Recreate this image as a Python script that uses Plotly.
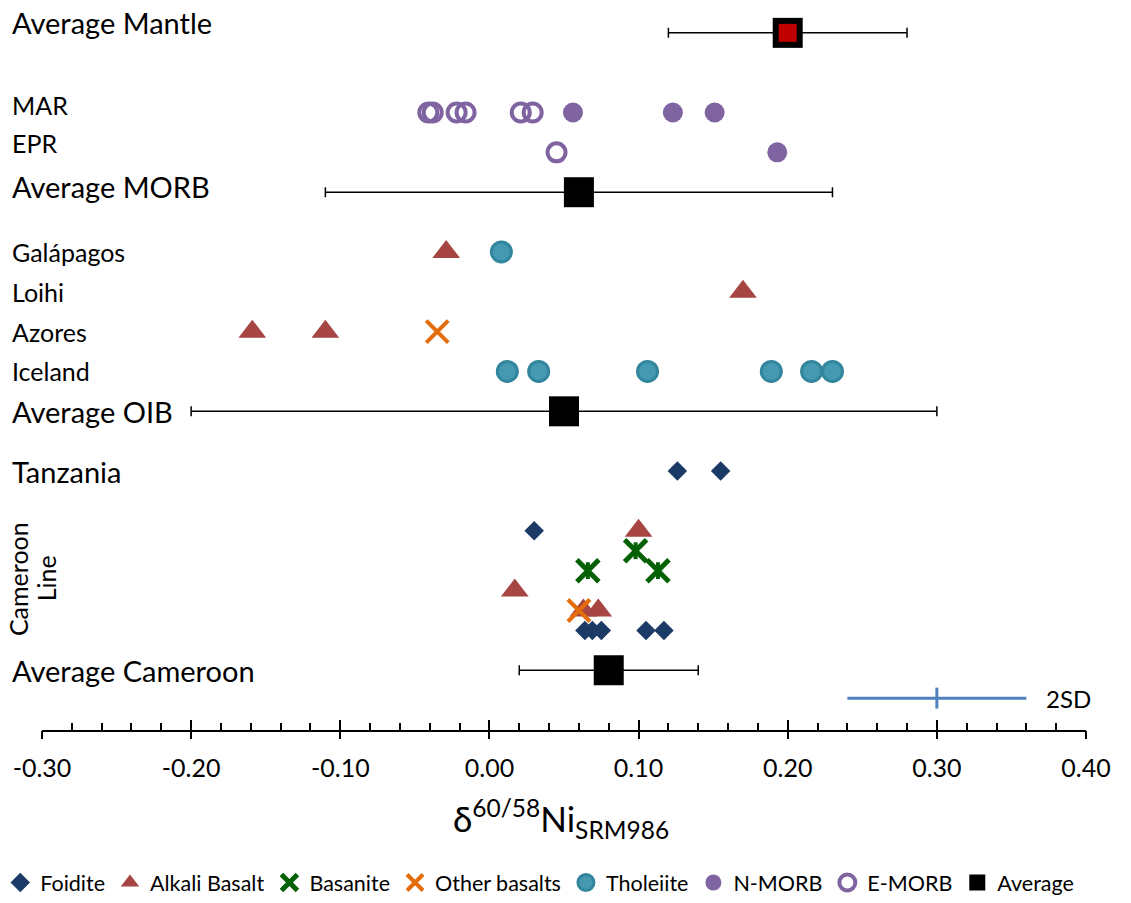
import plotly.graph_objects as go

FONT = "Lato"

# --- sample values (delta 60/58 Ni, permil) and their row levels -----------
foidite_x = [0.126, 0.155, 0.030, 0.064, 0.069, 0.075, 0.105, 0.117]
foidite_y = [13, 13, 10, 5, 5, 5, 5, 5]

alkali_x = [-0.029, 0.170, -0.159, -0.110, 0.100, 0.017, 0.063, 0.073]
alkali_y = [24, 22, 20, 20, 10, 7, 6, 6]

basanite_x = [0.098, 0.066, 0.113]
basanite_y = [9, 8, 8]

other_x = [-0.035, 0.060]
other_y = [20, 6]

tholeiite_x = [0.008, 0.012, 0.033, 0.106, 0.189, 0.216, 0.230]
tholeiite_y = [24, 18, 18, 18, 18, 18, 18]

nmorb_x = [0.056, 0.123, 0.151, 0.193]
nmorb_y = [31, 31, 31, 29]

emorb_x = [-0.041, -0.038, -0.022, -0.016, 0.021, 0.029, 0.045]
emorb_y = [31, 31, 31, 31, 31, 31, 29]

avg_names = ["Average Mantle", "Average MORB", "Average OIB", "Average Cameroon"]
avg_x = [0.20, 0.06, 0.05, 0.08]
avg_2sd = [0.08, 0.17, 0.25, 0.06]
avg_y = [35, 27, 16, 3]

sd_x = [0.30]
sd_err = [0.06]
sd_y = [1.6]

# row captions on the left
big_labels = ["Average Mantle", "Average MORB", "Average OIB", "Tanzania", "Average Cameroon"]
big_label_y = [35.5, 27.3, 16, 13, 3]
small_labels = ["MAR", "EPR", "Galápagos", "Loihi", "Azores", "Iceland"]
small_label_y = [31.4, 29.45, 24, 22, 20, 18]
group_label = ["Cameroon", "Line"]

tick_vals = [-0.30, -0.20, -0.10, 0.00, 0.10, 0.20, 0.30, 0.40]
tick_text = ["-0.30", "-0.20", "-0.10", "0.00", "0.10", "0.20", "0.30", "0.40"]

# --- colours ----------------------------------------------------------------
C_FOID = "#1b3a66"
C_ALK = "#a64541"
C_BAS = "#036103"
C_OTH = "#e46c0a"
C_THOL = "#4599b1"
C_THOL_EDGE = "#31859c"
C_MORB = "#8064a2"
C_SD = "#4f81bd"

fig = go.Figure()


def add_points(name, x, y, marker, showlegend=True, **kw):
    fig.add_trace(go.Scatter(x=x, y=y, mode="markers", name=name, marker=marker,
                             showlegend=showlegend, hoverinfo="skip", **kw))


add_points("Foidite", foidite_x, foidite_y,
           dict(symbol="diamond", size=15, color=C_FOID))
add_points("Alkali Basalt", alkali_x, alkali_y,
           dict(symbol="triangle-up", size=24, color=C_ALK))
add_points("Basanite", basanite_x, basanite_y,
           dict(symbol="x-thin-open", size=22, color=C_BAS, line=dict(width=5)))
add_points("Basanite stub", basanite_x, basanite_y,
           dict(symbol="line-ns-open", size=12, color=C_BAS, line=dict(width=4)),
           showlegend=False)
add_points("Other basalts", other_x, other_y,
           dict(symbol="x-thin-open", size=22, color=C_OTH, line=dict(width=4)))
add_points("Tholeiite", tholeiite_x, tholeiite_y,
           dict(symbol="circle", size=20, color=C_THOL, line=dict(color=C_THOL_EDGE, width=3)))
add_points("N-MORB", nmorb_x, nmorb_y,
           dict(symbol="circle", size=20, color=C_MORB))
add_points("E-MORB", emorb_x, emorb_y,
           dict(symbol="circle-open", size=18, color=C_MORB, line=dict(width=4)))
add_points("Average", avg_x, avg_y,
           dict(symbol="square", size=30, color="black"),
           error_x=dict(type="data", array=avg_2sd, color="black", thickness=1.5, width=5))
# red core of the mantle average
add_points("Mantle", avg_x[:1], avg_y[:1],
           dict(symbol="square", size=18, color="#c00000"), showlegend=False)
# analytical 2SD reference bar
add_points("2SD", sd_x, sd_y,
           dict(symbol="line-ns-open", size=15, color=C_SD, line=dict(width=3)),
           showlegend=False,
           error_x=dict(type="data", array=sd_err, color=C_SD, thickness=3, width=0))
# carrier for the labelled axis
fig.add_trace(go.Scatter(x=[None], y=[None], xaxis="x2", showlegend=False, hoverinfo="skip"))

LABEL_X = -0.0307
annotations = []
for t, yy in zip(big_labels, big_label_y):
    annotations.append(dict(text=t, x=LABEL_X, xref="paper", y=yy, yref="y",
                            xanchor="left", yanchor="middle", showarrow=False,
                            font=dict(family=FONT, size=29, color="black")))
for t, yy in zip(small_labels, small_label_y):
    annotations.append(dict(text=t, x=LABEL_X, xref="paper", y=yy, yref="y",
                            xanchor="left", yanchor="middle", showarrow=False,
                            font=dict(family=FONT, size=25, color="black")))
# vertical two-line caption for the Cameroon Line samples
for t, xx in zip(group_label, [-0.0235, 0.0035]):
    annotations.append(dict(text=t, textangle=-90, x=xx, xref="paper", y=7.6, yref="y",
                            xanchor="center", yanchor="middle", showarrow=False,
                            font=dict(family=FONT, size=25, color="black")))
annotations.append(dict(text="2SD", x=0.3716, xref="x", y=sd_y[0], yref="y",
                        xanchor="left", yanchor="middle", showarrow=False,
                        font=dict(family=FONT, size=24, color="black")))
annotations.append(dict(text="δ<sup>60/58</sup>Ni<sub>SRM986</sub>", x=0.497, xref="paper",
                        y=-0.1214, yref="paper", xanchor="center", yanchor="middle",
                        showarrow=False, font=dict(family=FONT, size=35, color="black")))

fig.update_layout(
    width=1131, height=903,
    margin=dict(l=42, r=45, t=0, b=170),
    paper_bgcolor="white", plot_bgcolor="white",
    font=dict(family=FONT, color="black"),
    xaxis=dict(range=[-0.30, 0.40], showline=True, linecolor="black", linewidth=1.5,
               showgrid=False, zeroline=False, ticks="inside", ticklen=10, tickwidth=1.5,
               tickcolor="black", tickmode="array", tickvals=tick_vals, showticklabels=False,
               minor=dict(tick0=-0.30, dtick=0.02, ticks="inside", ticklen=7, tickwidth=1.5,
                          tickcolor="black", showgrid=False)),
    xaxis2=dict(range=[-0.30, 0.40], overlaying="x", anchor="y", side="bottom",
                showline=False, showgrid=False, zeroline=False, ticks="outside", ticklen=8,
                tickwidth=1.5, tickcolor="black", tickmode="array", tickvals=tick_vals,
                ticktext=tick_text, ticklabelstandoff=8,
                tickfont=dict(family=FONT, size=25, color="black")),
    yaxis=dict(range=[0, 36.65], visible=False, showgrid=False, zeroline=False),
    legend=dict(orientation="h", x=-0.04, xanchor="left", y=-0.209, yanchor="middle",
                font=dict(family=FONT, size=21.5, color="black"), itemwidth=30,
                bgcolor="rgba(0,0,0,0)"),
    annotations=annotations,
    showlegend=True,
)

fig.write_html("out.html")
